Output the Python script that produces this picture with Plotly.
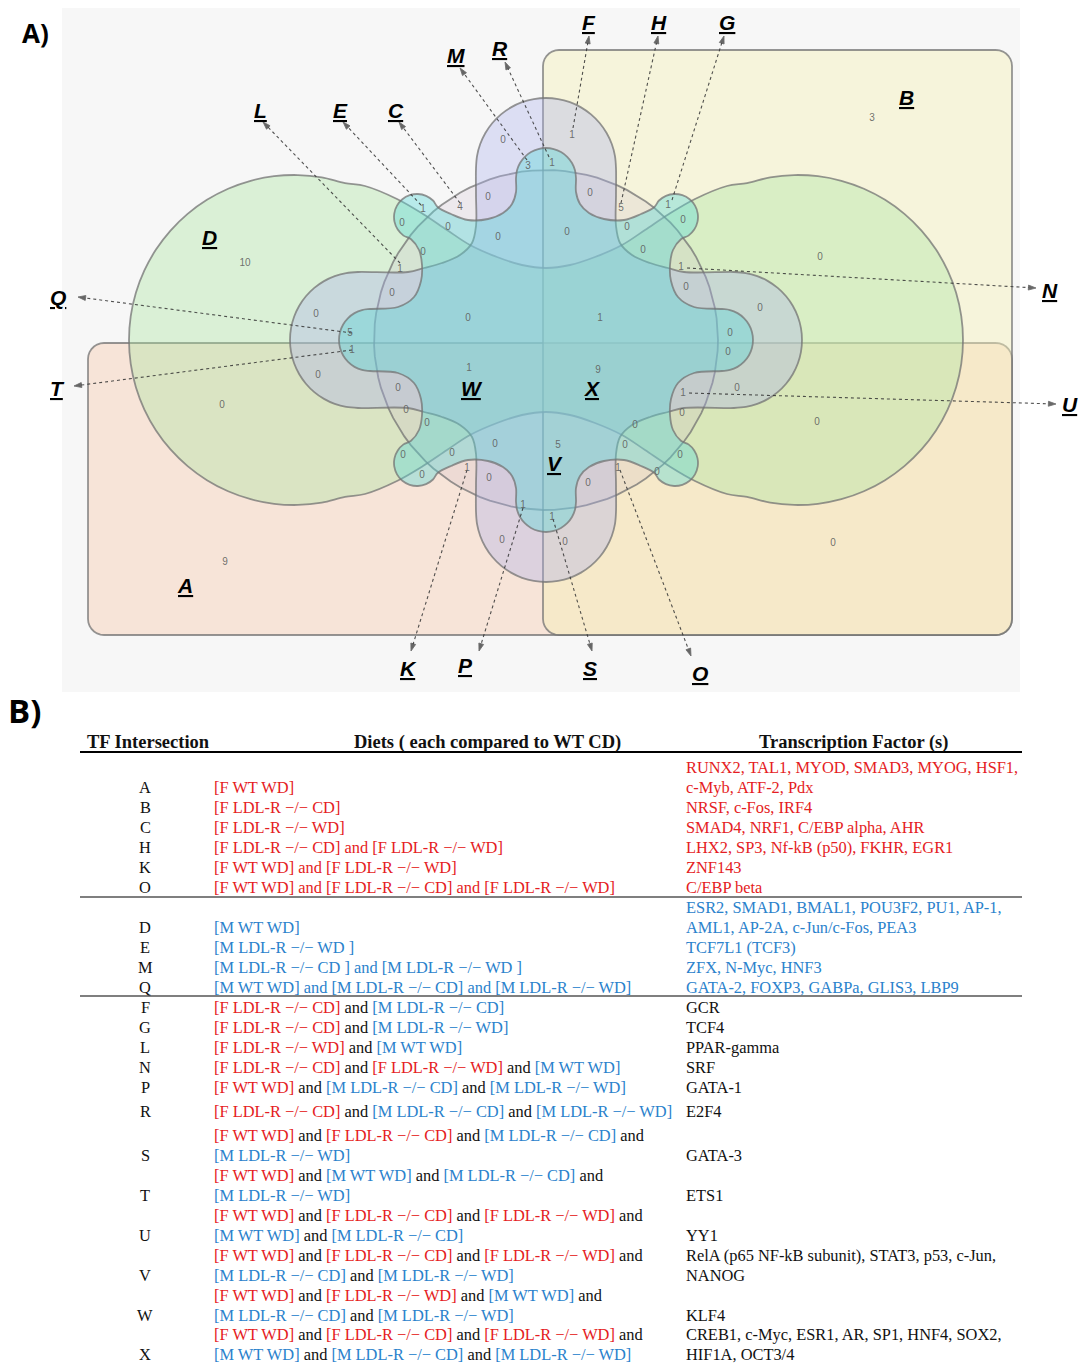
import numpy as np
import plotly.graph_objects as go

# ======================= DATA =======================
# counts shown inside the Venn regions
venn_counts = [0, 1, 3, 1, 0, 0, 4, 5, 1, 1,
               0, 0, 0, 0, 0, 0, 0, 0, 1, 1,
               0, 0, 0, 0, 0, 1, 5, 1, 0, 0,
               0, 0, 1, 9, 0, 1, 0, 0, 0, 0,
               0, 5, 0, 0, 0, 0, 0, 0, 1, 1,
               0, 0, 1, 1, 0, 0,
               10, 0, 9, 3, 0, 0, 0]

plain_labels = ['A', 'B', 'D', 'W', 'X', 'V']
arrow_labels = ['M', 'R', 'F', 'H', 'G', 'L', 'E', 'C', 'Q', 'T', 'N', 'U', 'K', 'P', 'S', 'O']

tf_letters = ['A', 'B', 'C', 'H', 'K', 'O',
              'D', 'E', 'M', 'Q',
              'F', 'G', 'L', 'N', 'P', 'R', 'S', 'T', 'U', 'V', 'W', 'X']
group_sizes = [6, 4, 12]
diets = [
    ['F WT WD'],
    ['F LDL-R −/− CD'],
    ['F LDL-R −/− WD'],
    ['F LDL-R −/− CD', 'F LDL-R −/− WD'],
    ['F WT WD', 'F LDL-R −/− WD'],
    ['F WT WD', 'F LDL-R −/− CD', 'F LDL-R −/− WD'],
    ['M WT WD'],
    ['M LDL-R −/− WD '],
    ['M LDL-R −/− CD ', 'M LDL-R −/− WD '],
    ['M WT WD', 'M LDL-R −/− CD', 'M LDL-R −/− WD'],
    ['F LDL-R −/− CD', 'M LDL-R −/− CD'],
    ['F LDL-R −/− CD', 'M LDL-R −/− WD'],
    ['F LDL-R −/− WD', 'M WT WD'],
    ['F LDL-R −/− CD', 'F LDL-R −/− WD', 'M WT WD'],
    ['F WT WD', 'M LDL-R −/− CD', 'M LDL-R −/− WD'],
    ['F LDL-R −/− CD', 'M LDL-R −/− CD', 'M LDL-R −/− WD'],
    ['F WT WD', 'F LDL-R −/− CD', 'M LDL-R −/− CD', 'M LDL-R −/− WD'],
    ['F WT WD', 'M WT WD', 'M LDL-R −/− CD', 'M LDL-R −/− WD'],
    ['F WT WD', 'F LDL-R −/− CD', 'F LDL-R −/− WD', 'M WT WD', 'M LDL-R −/− CD'],
    ['F WT WD', 'F LDL-R −/− CD', 'F LDL-R −/− WD', 'M LDL-R −/− CD', 'M LDL-R −/− WD'],
    ['F WT WD', 'F LDL-R −/− WD', 'M WT WD', 'M LDL-R −/− CD', 'M LDL-R −/− WD'],
    ['F WT WD', 'F LDL-R −/− CD', 'F LDL-R −/− WD', 'M WT WD', 'M LDL-R −/− CD', 'M LDL-R −/− WD'],
]
tfs = [
    ['RUNX2, TAL1, MYOD, SMAD3, MYOG, HSF1,', 'c-Myb, ATF-2, Pdx'],
    ['NRSF, c-Fos, IRF4'],
    ['SMAD4, NRF1, C/EBP alpha, AHR'],
    ['LHX2, SP3, Nf-kB (p50), FKHR, EGR1'],
    ['ZNF143'],
    ['C/EBP beta'],
    ['ESR2, SMAD1, BMAL1, POU3F2, PU1, AP-1,', 'AML1, AP-2A, c-Jun/c-Fos, PEA3'],
    ['TCF7L1 (TCF3)'],
    ['ZFX, N-Myc, HNF3'],
    ['GATA-2, FOXP3, GABPa, GLIS3, LBP9'],
    ['GCR'], ['TCF4'], ['PPAR-gamma'], ['SRF'], ['GATA-1'], ['E2F4'], ['GATA-3'], ['ETS1'], ['YY1'],
    ['RelA (p65 NF-kB subunit), STAT3, p53, c-Jun,', 'NANOG'],
    ['KLF4'],
    ['CREB1, c-Myc, ESR1, AR, SP1, HNF4, SOX2,', 'HIF1A, OCT3/4'],
]
headers = ['TF Intersection', 'Diets ( each compared to WT CD)', 'Transcription Factor (s)']

# ======================= LAYOUT / GEOMETRY =======================
W, H = 1081, 1363
CX, CY = 546, 340

count_xy = [(503, 140), (572, 135), (528, 166), (552, 163), (488, 197), (590, 193), (460, 207), (621, 208), (423, 209), (668, 205),
            (402, 223), (448, 227), (498, 237), (567, 232), (627, 227), (683, 220), (423, 252), (643, 250), (400, 269), (681, 267),
            (392, 293), (686, 287), (316, 314), (760, 308), (468, 318), (600, 318), (350, 333), (352, 350), (730, 333), (728, 352),
            (318, 375), (737, 388), (469, 368), (598, 370), (398, 388), (683, 393), (406, 410), (682, 413), (427, 423), (635, 425),
            (495, 444), (558, 445), (625, 445), (403, 455), (452, 453), (680, 455), (422, 475), (657, 472), (467, 468), (618, 468),
            (489, 478), (588, 483), (523, 505), (552, 517), (502, 540), (565, 542),
            (245, 263), (222, 405), (225, 562), (872, 118), (820, 257), (817, 422), (833, 543)]
plain_label_xy = [(185, 585), (906, 97), (209, 237), (472, 388), (592, 388), (555, 463)]
arrow_from = [(527, 160), (549, 157), (573, 128), (621, 203), (672, 200), (400, 263), (421, 205), (460, 203),
              (352, 333), (352, 350), (687, 268), (689, 393), (467, 470), (523, 508), (553, 519), (620, 470)]
arrow_to = [(460, 68), (505, 62), (589, 36), (658, 36), (724, 36), (263, 122), (343, 122), (399, 122),
            (78, 297), (74, 386), (1036, 288), (1056, 404), (411, 651), (479, 651), (592, 651), (691, 656)]
arrow_label_xy = [(456, 55), (500, 48), (589, 22), (659, 22), (727, 22), (260, 110), (340, 110), (396, 110),
                  (58, 297), (57, 388), (1050, 290), (1070, 404), (408, 668), (465, 665), (590, 668), (700, 673)]
row_last_y = [787, 807, 827, 847, 867, 887, 927, 947, 967, 987,
              1007, 1027, 1047, 1067, 1087, 1111, 1155, 1195, 1235, 1275, 1315, 1354]
LINE = 20


def arc(cx, cy, r, a0, a1, n=24, ry=None):
    ry = r if ry is None else ry
    t = np.radians(np.linspace(a0, a1, n))
    return list(zip(cx + r * np.cos(t), cy - ry * np.sin(t)))


def rounded_rect(x0, y0, x1, y1, r):
    pts = []
    for (cx, cy, a0, a1) in [(x1 - r, y0 + r, 90, 0), (x1 - r, y1 - r, 0, -90),
                             (x0 + r, y1 - r, -90, -180), (x0 + r, y0 + r, 180, 90)]:
        pts += arc(cx, cy, r, a0, a1, 8)
    pts.append(pts[0])
    return pts


def sym_loop(tl):
    rel = [(x - CX, y - CY) for x, y in tl]
    q2 = [(dx, -dy) for dx, dy in reversed(rel)][1:]
    q3 = [(-dx, -dy) for dx, dy in rel][1:]
    q4 = [(-dx, dy) for dx, dy in reversed(rel)][1:]
    allp = rel + q2 + q3 + q4
    return [(CX + dx, CY + dy) for dx, dy in allp]


# shapes
rectA = rounded_rect(88, 343, 1012, 635, 16)
rectB = rounded_rect(543, 50, 1012, 635, 16)

d_tl = [(546, 268), (522, 265), (497, 257), (470, 245), (447, 230), (423, 214), (397, 199), (365, 186)] + \
       arc(294, 340, 165, 72, 180, 14)
shapeD = sym_loop(d_tl)

fw = arc(CX, CY, 172, 0, 360, 100, ry=170)

# big "plus" set with four petals
mc_tl = arc(546, 168, 70, 90, 180, 10) + \
    [(476, 195), (476, 226), (472, 243), (460, 255), (442, 263), (424, 268), (408, 272)] + \
    arc(358, 340, 68, 90, 180, 10)
shapeMC = sym_loop(mc_tl)

# set with four knobs and four diagonal lobes
mw_tl = arc(546, 178, 30, 90, 180, 7) + \
    [(516, 192), (512, 204), (503, 213), (488, 219), (468, 220), (451, 214)] + \
    arc(417, 217, 23, 25, 255, 12) + \
    [(419, 250), (422, 265), (421, 281), (414, 297), (398, 307)] + \
    arc(370, 340, 31, 90, 180, 7)
shapeMW = sym_loop(mw_tl)

fig = go.Figure()

outline = 'rgba(115,115,115,0.75)'
shape_specs = [
    (rectA, 'rgba(248,200,170,0.40)', 'linear'),
    (rectB, 'rgba(245,240,185,0.45)', 'linear'),
    (shapeD, 'rgba(170,230,160,0.38)', 'spline'),
    (fw, 'rgba(200,180,200,0.20)', 'linear'),
    (shapeMC, 'rgba(170,175,235,0.35)', 'spline'),
    (shapeMW, 'rgba(90,215,215,0.40)', 'spline'),
]
for pts, fc, ls in shape_specs:
    xs = [p[0] for p in pts]
    ys = [p[1] for p in pts]
    fig.add_trace(go.Scatter(x=xs, y=ys, mode='lines', fill='toself', fillcolor=fc,
                             line=dict(color=outline, width=1.8, shape=ls),
                             hoverinfo='skip', showlegend=False))

# arrows (dotted)
for (x0, y0), (x1, y1) in zip(arrow_from, arrow_to):
    fig.add_trace(go.Scatter(x=[x0, x1], y=[y0, y1], mode='lines+markers',
                             line=dict(color='rgba(50,50,50,0.85)', width=1.1, dash='dot'),
                             marker=dict(size=[0, 8], symbol='arrow', angleref='previous',
                                         color='rgba(30,30,30,0.95)'),
                             hoverinfo='skip', showlegend=False))

# counts
fig.add_trace(go.Scatter(x=[p[0] for p in count_xy], y=[p[1] for p in count_xy],
                         mode='text', text=[str(v) for v in venn_counts],
                         textfont=dict(family='Liberation Sans', size=10, color='rgba(95,95,95,0.9)'),
                         hoverinfo='skip', showlegend=False))

annotations = []
for lab, (x, y) in zip(plain_labels + arrow_labels, plain_label_xy + arrow_label_xy):
    annotations.append(dict(x=x, y=y, xref='x', yref='y', text=f'<b><i><u>{lab}</u></i></b>',
                            showarrow=False, font=dict(family='Liberation Sans', size=21, color='black'),
                            xanchor='center', yanchor='middle'))

# panel tags
annotations.append(dict(x=20, y=33, xref='x', yref='y', text='<b>A)</b>', showarrow=False,
                        font=dict(family='Open Sans', size=26, color='black'), xanchor='left', yanchor='middle'))
annotations.append(dict(x=6, y=710, xref='x', yref='y', text='<b>B)</b>', showarrow=False,
                        font=dict(family='Open Sans', size=33, color='black'), xanchor='left', yanchor='middle'))

# ---------------- table ----------------
RED = '#e51c23'
BLUE = '#2b82cc'
BLACK = '#111111'
serif = 'Liberation Serif'

hdr_font = dict(family=serif, size=18.5, color=BLACK)
annotations.append(dict(x=85, y=742, xref='x', yref='y', text=f'<b>{headers[0]}</b>', showarrow=False,
                        font=hdr_font, xanchor='left', yanchor='middle'))
annotations.append(dict(x=487, y=742, xref='x', yref='y', text=f'<b>{headers[1]}</b>', showarrow=False,
                        font=hdr_font, xanchor='center', yanchor='middle'))
annotations.append(dict(x=853, y=742, xref='x', yref='y', text=f'<b>{headers[2]}</b>', showarrow=False,
                        font=hdr_font, xanchor='center', yanchor='middle'))

groups = []
for g, n in enumerate(group_sizes):
    groups += [g] * n


def set_color(s):
    return RED if s.startswith('F') else BLUE


def diet_lines(sets, g):
    and_col = [RED, BLUE, BLACK][g]
    chunks = [sets[:3], sets[3:]] if len(sets) > 3 else [sets]
    out = []
    for i, ch in enumerate(chunks):
        parts = [f"<span style='color:{set_color(s)}'>[{s}]</span>" for s in ch]
        txt = f"<span style='color:{and_col}'> and </span>".join(parts)
        if i < len(chunks) - 1:
            txt += f"<span style='color:{and_col}'> and</span>"
        out.append(txt)
    return out


body_font = 16.4
for letter, sets, tf, g, ylast in zip(tf_letters, diets, tfs, groups, row_last_y):
    annotations.append(dict(x=145, y=ylast, xref='x', yref='y', text=letter, showarrow=False,
                            font=dict(family=serif, size=body_font, color=BLACK),
                            xanchor='center', yanchor='middle'))
    dl = diet_lines(sets, g)
    for i, t in enumerate(dl):
        yy = ylast - (len(dl) - 1 - i) * LINE
        annotations.append(dict(x=212, y=yy, xref='x', yref='y', text=t, showarrow=False,
                                font=dict(family=serif, size=body_font, color=BLACK),
                                xanchor='left', yanchor='middle'))
    tcol = [RED, BLUE, BLACK][g]
    for i, t in enumerate(tf):
        yy = ylast - (len(tf) - 1 - i) * LINE
        annotations.append(dict(x=684, y=yy, xref='x', yref='y', text=t, showarrow=False,
                                font=dict(family=serif, size=body_font, color=tcol),
                                xanchor='left', yanchor='middle'))

shapes = [
    dict(type='rect', xref='x', yref='y', x0=62, x1=1020, y0=8, y1=692,
         fillcolor='#f7f7f7', line=dict(width=0), layer='below'),
    dict(type='line', xref='x', yref='y', x0=80, x1=1022, y0=752, y1=752, line=dict(color='black', width=2)),
    dict(type='line', xref='x', yref='y', x0=80, x1=1022, y0=897, y1=897, line=dict(color='#555555', width=1.5)),
    dict(type='line', xref='x', yref='y', x0=80, x1=1022, y0=996, y1=996, line=dict(color='#555555', width=1.5)),
]

fig.update_layout(
    width=W, height=H, margin=dict(l=0, r=0, t=0, b=0),
    paper_bgcolor='white', plot_bgcolor='white',
    xaxis=dict(range=[0, W], visible=False, fixedrange=True),
    yaxis=dict(range=[H, 0], visible=False, fixedrange=True),
    annotations=annotations, shapes=shapes, showlegend=False,
)

fig.write_html('out.html', config={'displayModeBar': False},
               post_script="document.body.style.margin='0';document.body.style.overflow='hidden';")
